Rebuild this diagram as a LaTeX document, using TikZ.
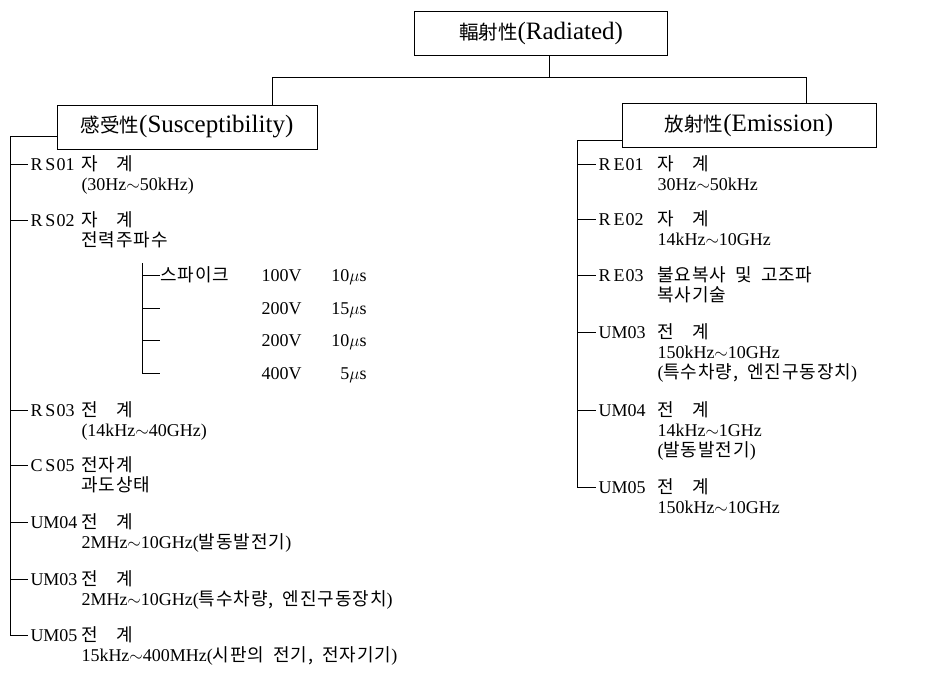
\documentclass[tikz,border=0pt]{standalone}
\usepackage{fontspec}
\setmainfont{Liberation Serif}
\newfontfamily\krfont[Scale=1.0,LetterSpace=5]{Noto Sans CJK KR}
\newfontfamily\krbox[Scale=0.78]{Noto Sans CJK KR}
\newcommand\hk[1]{{\krfont #1}}
\newcommand\hb[1]{{\krbox #1}}
\newcommand\gapx[1]{\hspace{#1pt}}
\newcommand\kgap{\hspace{0.5em}}
\begin{document}
\begin{tikzpicture}[x=1pt,y=-1pt,
  every path/.style={line width=1pt},
  box/.style={draw, line width=1pt, inner sep=0pt, font=\fontsize{25}{28}\selectfont},
  lab/.style={anchor=base west, inner sep=0pt, font=\fontsize{18}{20}\selectfont},
  desc/.style={anchor=base west, inner sep=0pt, font=\fontsize{18}{20}\selectfont},
  num/.style={anchor=base east, inner sep=0pt, font=\fontsize{18}{20}\selectfont}]
\useasboundingbox (0,0) rectangle (941,675);

% boxes
\node[box, minimum width=253pt, minimum height=44pt] (rad) at (541,33) {\hb{輻射性}(Radiated)};
\node[box, minimum width=260pt, minimum height=44pt] (sus) at (187,127) {\hb{感受性}(Susceptibility)};
\node[box, minimum width=254pt, minimum height=44pt] (emi) at (749,125) {\hb{放射性}(Emission)};

% tree
\coordinate (stem) at (549,77);
\coordinate (hl) at (272,77);
\coordinate (hr) at (806,77);
\draw (stem |- rad.south) -- (stem);
\draw (hl) -- (hr);
\draw (hl) -- (hl |- sus.north);
\draw (hr) -- (hr |- emi.north);

% ---------- left column ----------
\coordinate (lb) at (10,136);
\newcommand\litem[5]{%
  \node[lab] (#1) at (30,#2) {#3};
  \node[desc] (#1a) at (81,#2) {#4};
  \node[desc] (#1b) at (81,#2+20) {#5};
  \draw (lb |- #1) -- ([xshift=-2pt]#1.west);}
\litem{rsa}{170}{R\gapx{3}S\gapx{1}01}{\hk{자\quad 계}}{(30Hz$\sim$50kHz)}
\litem{rsb}{226}{R\gapx{3}S\gapx{1}02}{\hk{자\quad 계}}{\hk{전력주파수}}
\litem{rsc}{416}{R\gapx{3}S\gapx{1}03}{\hk{전\quad 계}}{(14kHz$\sim$40GHz)}
\litem{csa}{471}{C\gapx{3}S\gapx{1}05}{\hk{전자계}}{\hk{과도상태}}
\litem{uld}{528}{UM04}{\hk{전\quad 계}}{2MHz$\sim$10GHz(\hk{발동발전기})}
\litem{ulc}{585}{UM03}{\hk{전\quad 계}}{2MHz$\sim$10GHz(\hk{특수차량,\kgap 엔진구동장치})}
\litem{ule}{641}{UM05}{\hk{전\quad 계}}{15kHz$\sim$400MHz(\hk{시판의\kgap 전기,\kgap 전자기기})}
\draw (sus.west |- lb) -- (lb) -- (lb |- ule);

% spikes
\coordinate (sb) at (142,263);
\newcommand\spike[5]{%
  \node[lab] (#1) at (160,#2) {#3};
  \node[num] (#1v) at (302,#2) {#4};
  \node[num] (#1t) at (367,#2) {#5};
  \coordinate (#1d) at (160,#2-6);
  \draw (sb |- #1d) -- (#1d);}
\spike{spa}{281}{\hk{스파이크}}{100V}{10$\mu$s}
\spike{spb}{314}{}{200V}{15$\mu$s}
\spike{spc}{346}{}{200V}{10$\mu$s}
\spike{spd}{379}{}{400V}{5$\mu$s}
\draw (sb) -- (sb |- spdd);

% ---------- right column ----------
\coordinate (rb) at (577,140);
\newcommand\ritem[5]{%
  \node[lab] (#1) at (598,#2) {#3};
  \node[desc] (#1a) at (657,#2) {#4};
  \node[desc] (#1b) at (657,#2+20) {#5};
  \draw (rb |- #1) -- ([xshift=-2pt]#1.west);}
\ritem{rea}{170}{R\gapx{3}E\gapx{1}01}{\hk{자\quad 계}}{30Hz$\sim$50kHz}
\ritem{reb}{225}{R\gapx{3}E\gapx{1}02}{\hk{자\quad 계}}{14kHz$\sim$10GHz}
\ritem{rec}{281}{R\gapx{3}E\gapx{1}03}{\hk{불요복사\kgap 및\kgap 고조파}}{\hk{복사기술}}
\ritem{urc}{338}{UM03}{\hk{전\quad 계}}{150kHz$\sim$10GHz}
\node[desc] (urcc) at (657,378) {(\hk{특수차량,\kgap 엔진구동장치})};
\ritem{urd}{416}{UM04}{\hk{전\quad 계}}{14kHz$\sim$1GHz}
\node[desc] (urdc) at (657,456) {(\hk{발동발전기})};
\ritem{ure}{493}{UM05}{\hk{전\quad 계}}{150kHz$\sim$10GHz}
\draw (emi.west |- rb) -- (rb) -- (rb |- ure);
\end{tikzpicture}
\end{document}
